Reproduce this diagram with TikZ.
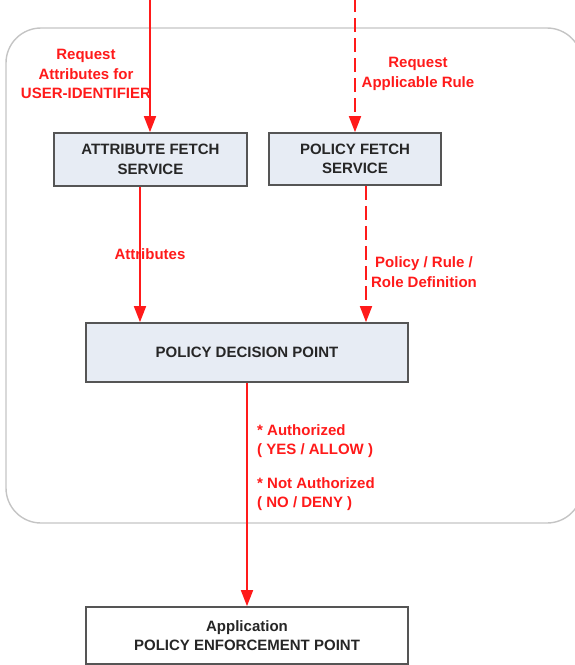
\documentclass[tikz,border=0pt]{standalone}
\usepackage{fontspec}
\setmainfont{Liberation Sans}
\usetikzlibrary{arrows.meta}
\definecolor{flowred}{HTML}{FF1A1A}
\definecolor{boxfill}{HTML}{E7ECF4}
\definecolor{boxline}{HTML}{555555}
\definecolor{framegray}{HTML}{C4C4C4}
\begin{document}
\begin{tikzpicture}[x=1pt,y=-1pt,
  every node/.style={font=\fontsize{15}{19.5}\selectfont\bfseries},
  svcbox/.style={draw=boxline, line width=1.7pt, fill=boxfill, align=center,
                 inner sep=0pt, text=black!85},
  flow/.style={draw=flowred, line width=1.7pt, -{Triangle[width=12pt,length=16pt]}},
  flowdash/.style={flow, dash pattern=on 14pt off 6pt},
  lbl/.style={text=flowred, align=center, inner sep=0pt},
  lblleft/.style={text=flowred, align=left, inner sep=0pt, anchor=west}]
\useasboundingbox (0,0) rectangle (575,665);
\clip (0,0) rectangle (575,665);

% outer frame around the decision services
\draw[framegray, line width=1.4pt, rounded corners=35pt] (6,28) rectangle (582,523);

% service boxes
\node[svcbox, minimum width=193pt, minimum height=53pt] (afs) at (150.5,159.5)
  {ATTRIBUTE FETCH\\SERVICE};
\node[svcbox, minimum width=172pt, minimum height=52pt] (pfs) at (355,159)
  {POLICY FETCH\\SERVICE};
\node[svcbox, minimum width=322pt, minimum height=59pt] (pdp) at (247,352.5)
  {POLICY DECISION POINT};
\node[svcbox, fill=white, minimum width=322pt, minimum height=57pt] (pep) at (247,635.5)
  {\raisebox{-5pt}{\shortstack{Application\\[2pt]POLICY ENFORCEMENT POINT}}};

% incoming requests
\coordinate (inA) at (150,-2);
\coordinate (inP) at (355,-2);
\draw[flow] (inA) -- (afs.north -| inA);
\draw[flowdash] (inP) -- (pfs.north -| inP);

% results passed to the decision point
\coordinate (outA) at (140,0);
\coordinate (outP) at (366,0);
\draw[flow] (afs.south -| outA) -- (pdp.north -| outA);
\draw[flowdash] (pfs.south -| outP) -- (pdp.north -| outP);

% decision sent to the enforcement point
\draw[flow] (pdp.south) -- (pep.north);

% labels
\node[lbl] (lreqA) at (86,74) {Request\\Attributes for\\USER-IDENTIFIER};
\node[lbl] (lreqP) at (418,74) {Request\\Applicable Rule};
\node[lbl] (lattr) at (150,254) {Attributes};
\node[lbl] (lpol) at (424,272) {Policy / Rule /\\Role Definition};
\node[lblleft, font=\fontsize{15}{18.5}\selectfont\bfseries] (lyes) at (257,441)
  {* Authorized\\( YES / ALLOW )};
\node[lblleft, font=\fontsize{15}{18.5}\selectfont\bfseries] (lno) at (257,494)
  {* Not Authorized\\( NO / DENY )};
\end{tikzpicture}
\end{document}
